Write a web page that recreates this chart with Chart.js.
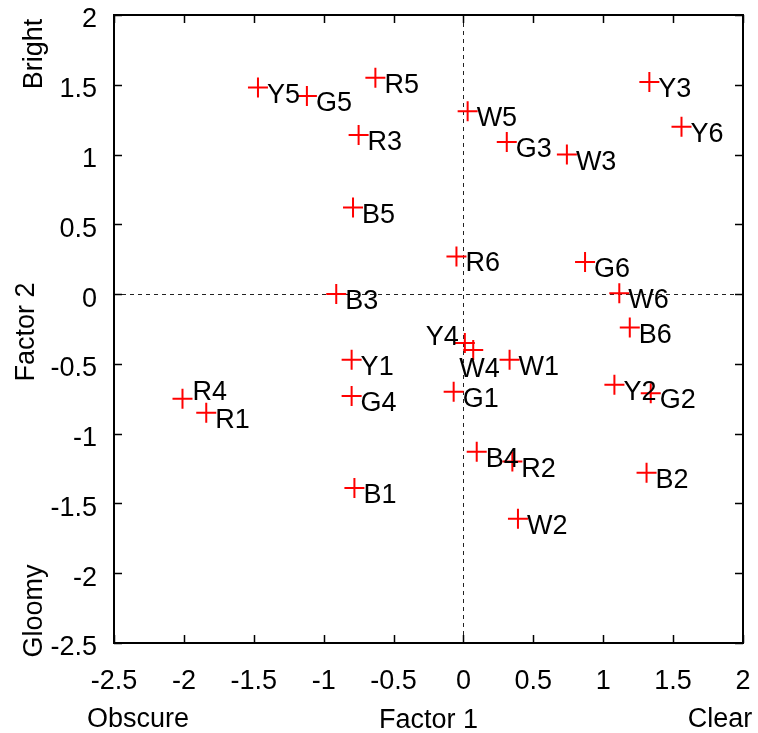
<!DOCTYPE html>
<html>
<head>
<meta charset="utf-8">
<script src="https://cdn.jsdelivr.net/npm/chart.js@4"></script>
<style>
  html, body { margin: 0; padding: 0; background: #fff; }
  canvas { display: block; }
</style>
</head>
<body>
<canvas id="factorChart" width="758" height="733"></canvas>
<script>
// ---- Datos ----
const names   = ['Y5', 'G5', 'R5', 'R3', 'W5', 'G3', 'W3', 'Y3', 'Y6', 'B5',
                 'R6', 'G6', 'B3', 'W6', 'B6', 'Y4', 'W4', 'W1', 'G1', 'Y1',
                 'Y2', 'G2', 'R4', 'R1', 'G4', 'B4', 'R2', 'W2', 'B2', 'B1'];
const factor1 = [-1.47, -1.12, -0.63, -0.75, 0.03, 0.31, 0.74, 1.33, 1.56, -0.79,
                 -0.05, 0.87, -0.91, 1.115, 1.19, 0.01, 0.07, 0.33, -0.07, -0.80,
                 1.08, 1.34, -2.01, -1.84, -0.80, 0.095, 0.35, 0.39, 1.31, -0.78];
const factor2 = [1.48, 1.42, 1.55, 1.14, 1.31, 1.09, 1.00, 1.52, 1.20, 0.62,
                 0.27, 0.23, 0.00, 0.006, -0.24, -0.35, -0.40, -0.47, -0.70, -0.47,
                 -0.65, -0.71, -0.75, -0.85, -0.73, -1.13, -1.20, -1.61, -1.28, -1.39];

const xTicks = [-2.5, -2, -1.5, -1, -0.5, 0, 0.5, 1, 1.5, 2];
const yTicks = [-2.5, -2, -1.5, -1, -0.5, 0, 0.5, 1, 1.5, 2];

// etiquetas que no van a la derecha del punto
const labelPlacement = { R4: 'above', Y4: 'left', W4: 'below' };

const FONT = '"Liberation Sans", Arial, sans-serif';
const FONT_SIZE = 27;
const RED = '#ff0000';

const decor = {
    id: 'decor',
    beforeDatasetsDraw(chart) {
        const { ctx, chartArea: a, scales: { x, y } } = chart;
        const x0 = Math.round(x.getPixelForValue(0)) + 0.5;
        const y0 = Math.round(y.getPixelForValue(0)) + 0.5;
        ctx.save();
        ctx.strokeStyle = '#222';
        ctx.lineWidth = 1;
        ctx.setLineDash([4, 4]);
        ctx.beginPath();
        ctx.moveTo(x0, a.top); ctx.lineTo(x0, a.bottom);
        ctx.moveTo(a.left, y0); ctx.lineTo(a.right, y0);
        ctx.stroke();
        ctx.restore();
    },
    afterDatasetsDraw(chart) {
        const { ctx, scales: { x, y } } = chart;
        ctx.save();
        ctx.fillStyle = '#000';
        ctx.font = `${FONT_SIZE}px ${FONT}`;
        ctx.textBaseline = 'alphabetic';
        names.forEach((name, i) => {
            const px = x.getPixelForValue(factor1[i]);
            const py = y.getPixelForValue(factor2[i]);
            const where = labelPlacement[name];
            ctx.textAlign = 'left';
            if (where === 'above') {
                ctx.fillText(name, px + 10, py + 1);
            } else if (where === 'left') {
                ctx.textAlign = 'right';
                ctx.fillText(name, px - 6, py + 2);
            } else if (where === 'below') {
                ctx.fillText(name, px - 14, py + 27);
            } else {
                ctx.fillText(name, px + 9, py + 15);
            }
        });
        ctx.restore();
    },
    afterDraw(chart) {
        const { ctx, chartArea: a, scales: { x, y } } = chart;
        ctx.save();
        // marco
        ctx.strokeStyle = '#000';
        ctx.lineWidth = 2;
        ctx.strokeRect(a.left, a.top, a.right - a.left, a.bottom - a.top);
        // ticks hacia dentro, en los cuatro lados
        ctx.lineWidth = 1.5;
        ctx.beginPath();
        xTicks.forEach(v => {
            const px = Math.round(x.getPixelForValue(v)) + 0.5;
            ctx.moveTo(px, a.bottom); ctx.lineTo(px, a.bottom - 8);
            ctx.moveTo(px, a.top); ctx.lineTo(px, a.top + 8);
        });
        yTicks.forEach(v => {
            const py = Math.round(y.getPixelForValue(v)) + 0.5;
            ctx.moveTo(a.left, py); ctx.lineTo(a.left + 8, py);
            ctx.moveTo(a.right, py); ctx.lineTo(a.right - 8, py);
        });
        ctx.stroke();

        // títulos
        ctx.fillStyle = '#000';
        ctx.font = `${FONT_SIZE}px ${FONT}`;
        ctx.textBaseline = 'middle';
        ctx.textAlign = 'center';
        const cx = (a.left + a.right) / 2;
        ctx.fillText('Factor 1', cx, 721);
        ctx.fillText('Obscure', 138, 720);
        ctx.fillText('Clear', 720, 720);

        ctx.textBaseline = 'alphabetic';
        const vtext = (txt, bx, cy) => {
            ctx.save();
            ctx.translate(bx, cy);
            ctx.rotate(-Math.PI / 2);
            ctx.fillText(txt, 0, 0);
            ctx.restore();
        };
        vtext('Factor 2', 34, 332);
        vtext('Bright', 42, 54);
        vtext('Gloomy', 42, 611);
        ctx.restore();
    }
};

new Chart(document.getElementById('factorChart'), {
    type: 'scatter',
    data: {
        datasets: [{
            label: 'Muestras',
            data: names.map((n, i) => ({ x: factor1[i], y: factor2[i] })),
            pointStyle: 'cross',
            pointRadius: 10,
            pointHoverRadius: 10,
            borderColor: RED,
            backgroundColor: RED,
            borderWidth: 2,
        }]
    },
    options: {
        responsive: false,
        animation: false,
        devicePixelRatio: 1,
        layout: { padding: { top: 15, right: 15, left: 0, bottom: 0 } },
        plugins: {
            legend: { display: false },
            tooltip: { enabled: false },
        },
        scales: {
            x: {
                type: 'linear',
                min: -2.5,
                max: 2,
                afterBuildTicks: axis => { axis.ticks = xTicks.map(v => ({ value: v })); },
                afterFit: s => {
                    s.height = 90;
                    s.paddingLeft = 0; s.paddingRight = 0;
                },
                grid: { display: false, drawTicks: false },
                border: { display: false },
                ticks: {
                    color: '#000',
                    padding: 22,
                    maxRotation: 0,
                    autoSkip: false,
                    callback: v => String(v),
                    font: { family: FONT, size: FONT_SIZE }
                }
            },
            y: {
                type: 'linear',
                min: -2.5,
                max: 2,
                afterBuildTicks: axis => { axis.ticks = yTicks.map(v => ({ value: v })); },
                afterFit: s => {
                    s.width = 114;
                    s.paddingTop = 0; s.paddingBottom = 0;
                },
                grid: { display: false, drawTicks: false },
                border: { display: false },
                ticks: {
                    color: '#000',
                    padding: 17,
                    labelOffset: 5,
                    autoSkip: false,
                    callback: v => String(v),
                    font: { family: FONT, size: FONT_SIZE }
                }
            }
        }
    },
    plugins: [decor]
});
</script>
</body>
</html>
